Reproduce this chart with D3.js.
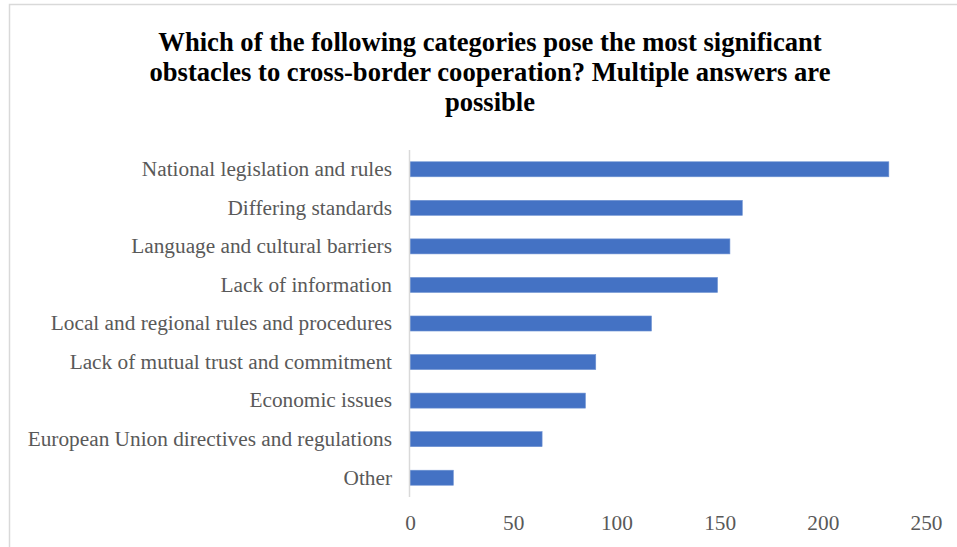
<!DOCTYPE html>
<html>
<head>
<meta charset="utf-8">
<script src="https://cdn.jsdelivr.net/npm/d3@7"></script>
<style>
  html, body { margin: 0; padding: 0; background: #ffffff; }
  svg { display: block; }
</style>
</head>
<body>
<script>
// Survey responses: obstacles to cross-border cooperation (multiple answers possible)
const categories = [
  "National legislation and rules",
  "Differing standards",
  "Language and cultural barriers",
  "Lack of information",
  "Local and regional rules and procedures",
  "Lack of mutual trust and commitment",
  "Economic issues",
  "European Union directives and regulations",
  "Other"
];
const counts = [232, 161, 155, 149, 117, 90, 85, 64, 21];
const xTicks = [0, 50, 100, 150, 200, 250];
const titleLines = [
  "Which of the following categories pose the most significant",
  "obstacles to cross-border cooperation? Multiple answers are",
  "possible"
];

const W = 957, H = 547;
const fontFamily = "'Liberation Serif', 'Times New Roman', serif";

const svg = d3.select("body").append("svg")
  .attr("width", W)
  .attr("height", H);

// chart frame
svg.append("rect")
  .attr("x", 9.5).attr("y", 4.5)
  .attr("width", W + 20).attr("height", H + 20)
  .attr("fill", "#ffffff")
  .attr("stroke", "#d9d9d9")
  .attr("stroke-width", 1.5);

// title
svg.append("text")
  .attr("x", 490)
  .attr("y", 51)
  .attr("text-anchor", "middle")
  .attr("font-family", fontFamily)
  .attr("font-weight", "bold")
  .attr("font-size", 26.6)
  .attr("fill", "#000000")
  .selectAll("tspan")
  .data(titleLines)
  .join("tspan")
  .attr("x", 490)
  .attr("dy", (d, i) => i === 0 ? 0 : 30)
  .text(d => d);

const plot = { left: 410, right: 926, top: 150, bottom: 497 };

const x = d3.scaleLinear()
  .domain([0, 250])
  .range([plot.left, plot.right]);

const y = d3.scaleBand()
  .domain(categories)
  .range([plot.top, plot.bottom])
  .paddingInner(0.61)
  .paddingOuter(0.305);

// bars
svg.append("g")
  .selectAll("rect")
  .data(categories)
  .join("rect")
  .attr("x", x(0))
  .attr("y", d => y(d))
  .attr("width", (d, i) => x(counts[i]) - x(0))
  .attr("height", y.bandwidth())
  .attr("fill", "#4472c4")
  .attr("stroke", "#6f93d3")
  .attr("stroke-width", 0.6);

// vertical category axis line
svg.append("line")
  .attr("x1", plot.left - 0.5).attr("x2", plot.left - 0.5)
  .attr("y1", plot.top).attr("y2", plot.bottom)
  .attr("stroke", "#d9d9d9")
  .attr("stroke-width", 1.5);

// category labels
const yAxis = d3.axisLeft(y).tickSize(0).tickPadding(18);
const yg = svg.append("g")
  .attr("transform", `translate(${plot.left},0)`)
  .call(yAxis);
yg.select(".domain").remove();
yg.selectAll("text")
  .attr("font-family", fontFamily)
  .attr("font-size", 21.3)
  .attr("fill", "#595959")
  .attr("dy", "0.32em");

// value axis labels
const xAxis = d3.axisBottom(x).tickValues(xTicks).tickSize(0).tickPadding(0);
const xg = svg.append("g")
  .attr("transform", `translate(0,${plot.bottom + 18})`)
  .call(xAxis);
xg.select(".domain").remove();
xg.selectAll("text")
  .attr("font-family", fontFamily)
  .attr("font-size", 21.3)
  .attr("fill", "#595959")
  .attr("dy", "0.71em");
</script>
</body>
</html>
